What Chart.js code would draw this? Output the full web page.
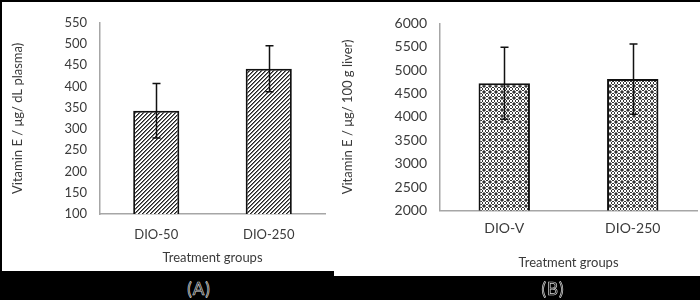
<!DOCTYPE html>
<html>
<head>
<meta charset="utf-8">
<script src="https://cdn.jsdelivr.net/npm/chart.js@4/dist/chart.umd.min.js"></script>
<style>
  html, body { margin: 0; padding: 0; background: #000; width: 700px; height: 300px; overflow: hidden; }
  .panel { position: absolute; background: #fff; }
  canvas { position: absolute; left: 0; top: 0; }
  .cap { position: absolute; font-family: Lato, "Liberation Sans", sans-serif; font-size: 17px;
         color: transparent; -webkit-text-stroke: 0.7px #d8d8d8; transform: translate(-50%, -50%); letter-spacing: 1px; }
</style>
</head>
<body>
<div class="panel" id="pa" style="left:2px;top:2px;width:333px;height:269px;">
  <canvas id="chartA" width="333" height="269"></canvas>
</div>
<div class="panel" id="pb" style="left:334px;top:2px;width:366px;height:274px;">
  <canvas id="chartB" width="366" height="274"></canvas>
</div>
<div class="cap" style="left:199px;top:288px;">(A)</div>
<div class="cap" style="left:553px;top:288px;">(B)</div>
<script>
// ---- Data ----
const categoriesA = ['DIO-50', 'DIO-250'];
const valuesA = [343, 442];
const errorsA = [64, 54];
const yTicksA = { min: 100, max: 550, step: 50 };
const yTitleA = 'Vitamin E / μg/ dL plasma)';

const categoriesB = ['DIO-V', 'DIO-250'];
const valuesB = [4720, 4810];
const errorsB = [770, 750];
const yTicksB = { min: 2000, max: 6000, step: 500 };
const yTitleB = 'Vitamin E / μg/ 100 g liver)';

const xTitle = 'Treatment groups';

// ---- Patterns ----
function hatchPattern() {
  const c = document.createElement('canvas');
  c.width = 4; c.height = 4;
  const g = c.getContext('2d');
  g.fillStyle = '#fff'; g.fillRect(0, 0, 4, 4);
  for (let i = 0; i < 4; i++) {
    g.fillStyle = '#222'; g.fillRect(i, 3 - i, 1, 1);
    g.fillStyle = '#777'; g.fillRect((i + 1) % 4, 3 - i, 1, 1);
  }
  return g.createPattern(c, 'repeat');
}
function spherePattern() {
  const c = document.createElement('canvas');
  c.width = 6; c.height = 6;
  const g = c.getContext('2d');
  g.fillStyle = '#fff'; g.fillRect(0, 0, 6, 6);
  const m = ['XG..GX', 'G.XX.G', '.X..X.', '.X..X.', 'G.XX.G', 'XG..GX'];
  m.forEach((row, y) => {
    for (let x = 0; x < 6; x++) {
      if (row[x] === 'X') { g.fillStyle = '#333'; g.fillRect(x, y, 1, 1); }
      else if (row[x] === 'G') { g.fillStyle = '#888'; g.fillRect(x, y, 1, 1); }
    }
  });
  return g.createPattern(c, 'repeat');
}

// ---- Error bar plugin ----
const errorBars = {
  id: 'errorBars',
  afterDatasetsDraw(chart, args, opts) {
    const ctx = chart.ctx;
    const ys = chart.scales.y;
    const meta = chart.getDatasetMeta(0);
    const vals = chart.data.datasets[0].data;
    ctx.save();
    ctx.strokeStyle = '#111';
    ctx.lineWidth = 1.5;
    meta.data.forEach((bar, i) => {
      const e = opts.errors[i];
      const yTop = ys.getPixelForValue(vals[i] + e);
      const yBot = ys.getPixelForValue(vals[i] - e);
      const x = Math.round(bar.x) + 0.5;
      ctx.beginPath();
      ctx.moveTo(x, yTop); ctx.lineTo(x, yBot);
      ctx.moveTo(x - 4, yTop); ctx.lineTo(x + 4, yTop);
      ctx.moveTo(x - 4, yBot); ctx.lineTo(x + 4, yBot);
      ctx.stroke();
    });
    ctx.restore();
  }
};

const FONT = 'Lato, "Liberation Sans", sans-serif';
const TEXT = '#3a3a3a';
const AXIS = '#a6a6a6';

function makeChart(id, cats, vals, errs, yt, yTitle, bg, cfg) {
  return new Chart(document.getElementById(id), {
    type: 'bar',
    data: {
      labels: cats,
      datasets: [{
        data: vals,
        backgroundColor: bg,
        borderColor: '#111',
        borderWidth: 2,
        borderSkipped: false,
        barPercentage: cfg.barPct,
        categoryPercentage: 1
      }]
    },
    options: {
      responsive: false,
      animation: false,
      devicePixelRatio: 1,
      layout: { padding: cfg.padding },
      plugins: {
        legend: { display: false },
        tooltip: { enabled: false },
        errorBars: { errors: errs }
      },
      scales: {
        x: {
          grid: { display: false, drawTicks: false },
          border: { display: true, color: AXIS, width: 1.5 },
          ticks: { color: TEXT, font: { family: FONT, size: cfg.xFont }, padding: cfg.xTickPad },
          title: { display: true, text: xTitle, color: TEXT, font: { family: FONT, size: 13 }, padding: { top: 0, bottom: cfg.xTitlePad } },
          afterFit(s) { s.height = cfg.xHeight; }
        },
        y: {
          min: yt.min, max: yt.max,
          grid: { display: false, drawTicks: false },
          border: { display: true, color: AXIS, width: 1.5 },
          ticks: { stepSize: yt.step, color: TEXT, font: { family: FONT, size: cfg.yFont }, padding: cfg.yTickPad,
                   callback: (v) => String(v) },
          title: { display: true, text: yTitle, color: TEXT, font: { family: FONT, size: 13 }, padding: { top: cfg.yTitlePad, bottom: 0 } },
          afterFit(s) { s.width = cfg.yWidth; }
        }
      }
    },
    plugins: [errorBars]
  });
}

makeChart('chartA', categoriesA, valuesA, errorsA, yTicksA, yTitleA, hatchPattern(), {
  barPct: 0.41, padding: { left: 0, right: 10, top: 16, bottom: 0 },
  xHeight: 57, yWidth: 98, xFont: 13, yFont: 13, xTickPad: 13, yTickPad: 13, xTitlePad: 5, yTitlePad: 8
});
makeChart('chartB', categoriesB, valuesB, errorsB, yTicksB, yTitleB, spherePattern(), {
  barPct: 0.40, padding: { left: 0, right: 3, top: 10.7, bottom: 0 },
  xHeight: 65.5, yWidth: 106, xFont: 14, yFont: 14, xTickPad: 10, yTickPad: 13, xTitlePad: 5, yTitlePad: 6
});
</script>
</body>
</html>
